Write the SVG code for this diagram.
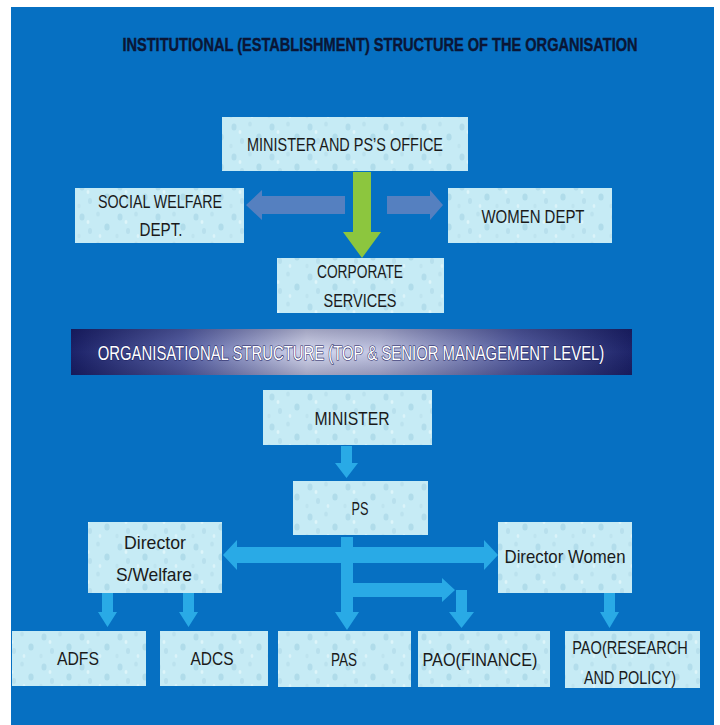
<svg xmlns="http://www.w3.org/2000/svg" width="720" height="725" viewBox="0 0 720 725">
<defs>
<pattern id="drops" width="38" height="30" patternUnits="userSpaceOnUse">
<rect width="38" height="30" fill="#C6EBF5"/>
<ellipse cx="6" cy="7" rx="2.5" ry="3.5" fill="#B2DDEB"/>
<ellipse cx="22" cy="4" rx="1.8" ry="2.6" fill="#BBE2EE"/>
<ellipse cx="31" cy="17" rx="2.6" ry="3.6" fill="#B0DCEA"/>
<ellipse cx="14" cy="21" rx="2" ry="3" fill="#B8E0ED"/>
<ellipse cx="3" cy="26" rx="1.6" ry="2.2" fill="#BEE4EF"/>
<ellipse cx="24" cy="26" rx="1.4" ry="2" fill="#DAF3F9"/>
<ellipse cx="12" cy="12" rx="1.5" ry="2" fill="#DDF5FA"/>
</pattern>
<linearGradient id="banner" x1="0" y1="0" x2="1" y2="0">
<stop offset="0" stop-color="#1C2268"/>
<stop offset="0.2" stop-color="#5A64A8"/>
<stop offset="0.42" stop-color="#D6D9EF"/>
<stop offset="0.55" stop-color="#C2C6E4"/>
<stop offset="0.8" stop-color="#565FA2"/>
<stop offset="1" stop-color="#1E2469"/>
</linearGradient>
<linearGradient id="bannerV" x1="0" y1="0" x2="0" y2="1">
<stop offset="0" stop-color="#000030" stop-opacity="0.25"/>
<stop offset="0.5" stop-color="#000030" stop-opacity="0"/>
<stop offset="1" stop-color="#000030" stop-opacity="0.25"/>
</linearGradient>
</defs>
<style>
.box{fill:url(#drops);}
.t{font-family:"Liberation Sans",Arial,sans-serif;font-size:19px;fill:#1A1A1A;text-anchor:middle;}
.lb{fill:#29AAE6;}
.grey{fill:#5580C0;}
</style>
<rect x="0" y="0" width="720" height="725" fill="#FFFFFF"/>
<rect x="11" y="7" width="703" height="718" fill="#0670C2"/>

<text transform="translate(380,51) scale(0.75,1)" x="0" y="0" font-family="'Liberation Sans',Arial,sans-serif" font-size="19" font-weight="bold" fill="#0A1636" stroke="#0A1636" stroke-width="0.4" text-anchor="middle" textLength="687" lengthAdjust="spacingAndGlyphs">INSTITUTIONAL (ESTABLISHMENT) STRUCTURE OF THE ORGANISATION</text>

<g id="connectors">
<polygon class="grey" points="345,196 262,196 262,190 246,205 262,220 262,214 345,214"/>
<polygon class="grey" points="387,196 430,196 430,190 443,205 430,220 430,214 387,214"/>
<polygon fill="#8CC63E" points="353,172 371,172 371,232 381,232 362,258 343,232 353,232"/>
<polygon class="lb" points="341,446 352,446 352,463 358,463 346.5,478 335,463 341,463"/>
<polygon class="lb" points="237,547 484,547 484,540 498,555 484,570 484,563 237,563 237,570 223,555 237,540"/>
<polygon class="lb" points="341,537 353,537 353,612 359,612 347,630 335,612 341,612"/>
<polygon class="lb" points="353,583 442,583 442,578 455,590 442,602 442,597 353,597"/>
<polygon class="lb" points="456,590 467,590 467,612 474,612 461.5,628 449,612 456,612"/>
<polygon class="lb" points="102,593 113,593 113,612 117,612 107.5,627 98,612 102,612"/>
<polygon class="lb" points="183,593 194,593 194,612 198,612 188.5,627 179,612 183,612"/>
<polygon class="lb" points="604,593 615,593 615,612 619,612 609.5,628 600,612 604,612"/>
</g>

<g id="minister-ps-office"><rect class="box" x="222" y="117" width="246" height="54"/><text class="t" x="345" y="151" textLength="196" lengthAdjust="spacingAndGlyphs">MINISTER AND PS’S OFFICE</text></g>
<g id="social-welfare-dept"><rect class="box" x="75" y="188" width="169" height="55"/><text class="t" x="160" y="208" textLength="124" lengthAdjust="spacingAndGlyphs">SOCIAL WELFARE</text><text class="t" x="161" y="236" textLength="43" lengthAdjust="spacingAndGlyphs">DEPT.</text></g>
<g id="women-dept"><rect class="box" x="448" y="188" width="164" height="55"/><text class="t" x="533" y="223" textLength="103" lengthAdjust="spacingAndGlyphs">WOMEN DEPT</text></g>
<g id="corporate-services"><rect class="box" x="277" y="258" width="167" height="55"/><text class="t" x="360" y="278" textLength="86" lengthAdjust="spacingAndGlyphs">CORPORATE</text><text class="t" x="360" y="307" textLength="73" lengthAdjust="spacingAndGlyphs">SERVICES</text></g>

<g id="banner"><rect x="71" y="329" width="561" height="46" fill="url(#banner)"/><rect x="71" y="329" width="561" height="46" fill="url(#bannerV)"/><text transform="translate(351,360) scale(0.85,1)" x="0" y="0" font-family="'Liberation Sans',Arial,sans-serif" font-size="20" fill="#FFFFFF" stroke="#1B2160" stroke-width="1.2" paint-order="stroke" text-anchor="middle" textLength="596" lengthAdjust="spacingAndGlyphs">ORGANISATIONAL STRUCTURE (TOP &amp; SENIOR  MANAGEMENT LEVEL)</text></g>

<g id="minister"><rect class="box" x="263" y="390" width="169" height="55"/><text class="t" x="352" y="425" textLength="75" lengthAdjust="spacingAndGlyphs">MINISTER</text></g>
<g id="ps"><rect class="box" x="293" y="481" width="135" height="54"/><text class="t" x="360" y="515" textLength="17" lengthAdjust="spacingAndGlyphs">PS</text></g>
<g id="director-swelfare"><rect class="box" x="88" y="522" width="134" height="71"/><text class="t" x="155" y="549" textLength="62" lengthAdjust="spacingAndGlyphs">Director</text><text class="t" x="154" y="581" textLength="76" lengthAdjust="spacingAndGlyphs">S/Welfare</text></g>
<g id="director-women"><rect class="box" x="498" y="522" width="134" height="71"/><text class="t" x="565" y="563" textLength="121" lengthAdjust="spacingAndGlyphs">Director Women</text></g>

<g id="adfs"><rect class="box" x="12" y="631" width="134" height="55"/><text class="t" x="78" y="665" textLength="42" lengthAdjust="spacingAndGlyphs">ADFS</text></g>
<g id="adcs"><rect class="box" x="160" y="631" width="108" height="55"/><text class="t" x="212" y="665" textLength="43" lengthAdjust="spacingAndGlyphs">ADCS</text></g>
<g id="pas"><rect class="box" x="278" y="631" width="133" height="56"/><text class="t" x="344" y="666" textLength="26" lengthAdjust="spacingAndGlyphs">PAS</text></g>
<g id="pao-finance"><rect class="box" x="418" y="631" width="132" height="56"/><text class="t" x="480" y="666" textLength="115" lengthAdjust="spacingAndGlyphs">PAO(FINANCE)</text></g>
<g id="pao-research"><rect class="box" x="565" y="631" width="135" height="57"/><text class="t" transform="translate(630,654) scale(0.85,1)" x="0" y="0" textLength="136" lengthAdjust="spacingAndGlyphs">PAO(RESEARCH</text><text class="t" x="630" y="684" textLength="92" lengthAdjust="spacingAndGlyphs">AND POLICY)</text></g>
</svg>
